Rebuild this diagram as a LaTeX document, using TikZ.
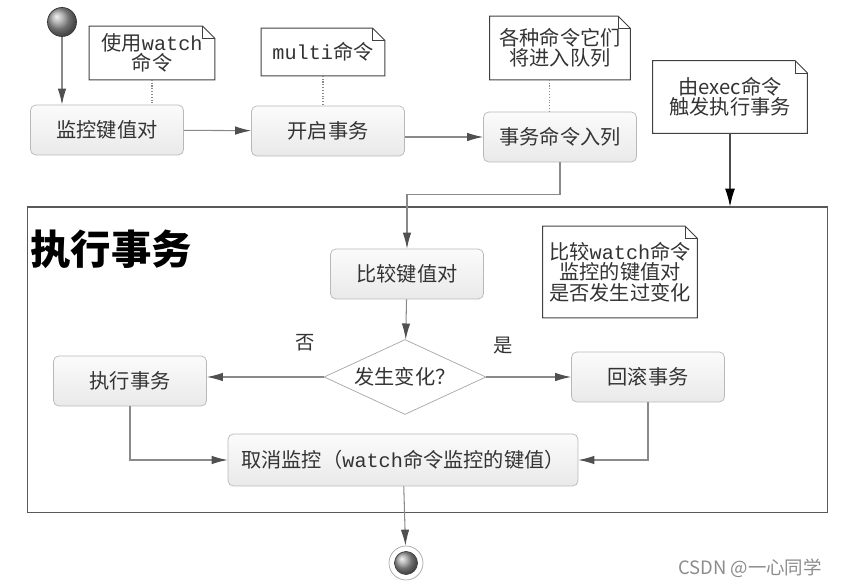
\documentclass[tikz,border=0pt]{standalone}
\usepackage{fontspec}
\newfontfamily\cjk{Noto Sans CJK SC}
\newfontfamily\lat{Liberation Mono}
\usetikzlibrary{calc, arrows.meta, shapes.geometric}
\definecolor{linegray}{HTML}{8A8A8A}
\definecolor{tipgray}{HTML}{505050}
\definecolor{boxline}{HTML}{B8B8B8}
\definecolor{txtgray}{HTML}{333333}
\tikzset{
  act/.style={draw=boxline, rounded corners=3pt, top color=gray!3, bottom color=gray!17,
    minimum width=3.06cm, minimum height=1cm, text=txtgray,
    font=\cjk\fontsize{11.5}{13}\selectfont},
  note/.style={fill=white, align=center, text=txtgray, inner sep=1pt,
    font=\cjk\fontsize{11.5}{11.6}\selectfont},
  notebd/.style={draw=gray!50!black, line width=0.5pt},
  flow/.style={draw=linegray, line width=0.6pt,
    -{Latex[length=0.32cm,width=0.17cm,color=tipgray]}},
  link/.style={draw=linegray, densely dotted, line width=0.6pt},
}
\begin{document}
\begin{tikzpicture}[x=0.02cm, y=-0.02cm]
  \useasboundingbox (0,0) rectangle (853,587);
  % Frame of the transaction
  \node[draw=gray!70!black, line width=0.6pt, minimum width=16.02cm, minimum height=6.12cm] (frame) at (427.5,360) {};
  \node[font=\cjk\fontsize{23}{25}\selectfont\bfseries, text=black] (title) at (111,249) {执行事务};
  % Start and end
  \node[circle, minimum size=0.58cm, ball color=gray!75, draw=gray!40!black] (start) at (62,22) {};
  \node[circle, minimum size=0.68cm, draw=gray!70, fill=white] (stop) at (406,563) {};
  \node[circle, minimum size=0.46cm, ball color=gray!75, draw=gray!50!black] (stopin) at (406,563) {};
  % Activities
  \node[act] (watch) at (107,130) {监控键值对};
  \node[act] (multi) at (328,131) {开启事务};
  \node[act] (queue) at (560,137) {事务命令入列};
  \node[act] (compare) at (407,274) {比较键值对};
  \node[draw=gray!70, fill=white, diamond, aspect=2.16, inner sep=0pt, minimum width=3.24cm, minimum height=1.5cm,
    text=txtgray, font=\cjk\fontsize{11.5}{13}\selectfont] (changed) at (405,377) {发生变化？};
  \node[act] (exec) at (130,381) {执行事务};
  \node[act] (discard) at (648,377) {回滚事务};
  \node[act, minimum width=7cm, minimum height=1.04cm] (unwatch) at (403,460) {取消监控（{\lat watch}命令监控的键值）};
  % Notes
  \node[note, minimum width=2.5cm, minimum height=1.06cm] (n1) at (152,53) {使用{\lat watch}\\命令};
  \node[note, minimum width=2.46cm, minimum height=0.94cm] (n2) at (323,52) {{\lat multi}命令};
  \node[note, minimum width=2.8cm, minimum height=1.26cm] (n3) at (560,48) {各种命令它们\\将进入队列};
  \node[note, minimum width=3.08cm, minimum height=1.44cm] (n4) at (730,97) {由exec命令\\触发执行事务};
  \node[note, minimum width=3.08cm, minimum height=1.82cm] (n5) at (620,272) {比较{\lat watch}命令\\监控的键值对\\是否发生过变化};
  \foreach \n in {n1,n2,n3,n4,n5} {
    \draw[notebd] (\n.north west) -- ([xshift=-7pt]\n.north east) -- ([yshift=-7pt]\n.north east)
      -- (\n.south east) -- (\n.south west) -- cycle;
    \draw[notebd] ([xshift=-7pt]\n.north east) -- ([xshift=-7pt,yshift=-7pt]\n.north east) -- ([yshift=-7pt]\n.north east);
  }
  % Labels
  \node[text=txtgray, font=\cjk\fontsize{11}{12}\selectfont] (no) at (305,343) {否};
  \node[text=txtgray, font=\cjk\fontsize{11}{12}\selectfont] (yes) at (503,346) {是};
  \node[text=gray!90, font=\cjk\fontsize{10.5}{12}\selectfont] (mark) at (750,568) {CSDN @一心同学};
  % Connectors
  \draw[flow] (start) -- (start |- watch.north);
  \draw[flow] (watch) -- (multi);
  \draw[flow] (queue.west -| multi.east) -- (queue.west);
  \draw[flow] (queue.south) -- ++(0,32) -| (compare.north);
  \draw[flow] (compare) -- (changed);
  \draw[flow] (changed.west) -- (changed.west -| exec.east);
  \draw[flow] (changed.east) -- (changed.east -| discard.west);
  \draw[flow] (exec.south) |- (unwatch.west);
  \draw[flow] (discard.south) |- (unwatch.east);
  \draw[flow] (unwatch) -- (stop);
  \draw[draw=gray!60!black, line width=0.6pt, -{Latex[length=0.36cm,width=0.2cm,color=black]}] (n4.south) -- (n4.south |- frame.north);
  % Dotted note links
  \draw[link] (n1.south) -- (n1.south |- watch.north);
  \draw[link] (n2.south) -- (n2.south |- multi.north);
  \draw[link] ([xshift=-6pt]n3.south) -- ([xshift=-6pt]n3.south |- queue.north);
\end{tikzpicture}
\end{document}
